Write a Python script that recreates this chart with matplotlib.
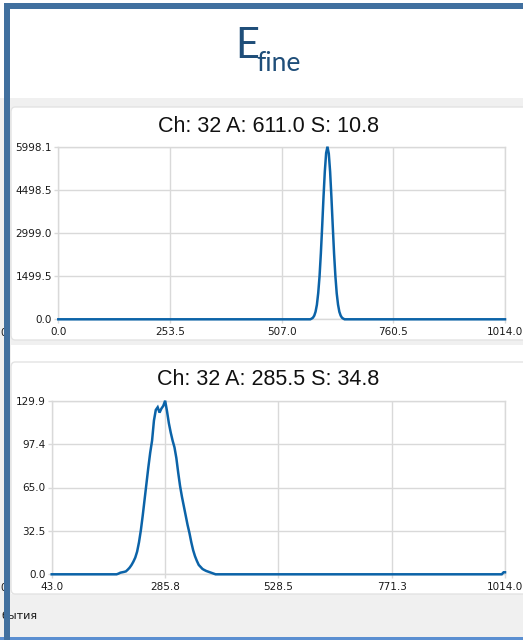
import numpy as np
import matplotlib
matplotlib.use("Agg")
import matplotlib.pyplot as plt
from matplotlib.patches import Rectangle, FancyBboxPatch

# spectrum 1: channel bins around the peak (zeros outside)
top_ch = [0, 572, 575, 578, 581, 584, 587, 590, 593, 596, 599, 602, 605, 608, 611,
          614, 617, 620, 623, 626, 629, 632, 635, 638, 641, 644, 647, 650, 1014]
top_cnt = [0, 0, 23, 56, 127, 265, 505, 910, 1490, 2290, 3230, 4245, 5140, 5780, 5998.1,
           5760, 5135, 4235, 3240, 2280, 1500, 900, 510, 260, 128, 55, 22, 0, 0]
top_xticks = ["0.0", "253.5", "507.0", "760.5", "1014.0"]
top_yticks = ["0.0", "1499.5", "2999.0", "4498.5", "5998.1"]

# spectrum 2
bot_ch = [43, 182, 186, 190, 194, 198, 202, 206, 210, 214, 218, 222, 226, 230, 234, 238,
          242, 246, 250, 254, 258, 262, 266, 270, 274, 278, 282, 286, 290, 294, 298,
          302, 306, 310, 314, 318, 322, 326, 330, 334, 338, 342, 346, 350, 354, 358,
          362, 366, 370, 374, 378, 382, 386, 390, 394, 1007, 1011, 1014]
bot_cnt = [0, 0, 0.5, 1.2, 1.5, 1.8, 2.2, 3.5, 5, 7, 9.5, 12.5, 17, 24, 33, 44,
           56, 68, 80, 91, 100, 115, 123, 125, 121, 124, 126, 129.9, 122, 113, 106,
           100, 95, 87, 76, 66, 58, 51, 44, 37, 31, 24, 18, 13.5, 10, 7,
           5.5, 4, 3.2, 2.5, 2, 1.5, 1, 0.5, 0, 0, 1.5, 1.5]
bot_xticks = ["43.0", "285.8", "528.5", "771.3", "1014.0"]
bot_yticks = ["0.0", "32.5", "65.0", "97.4", "129.9"]

W, H = 523, 640
def fx(x): return x / W
def fy(y): return 1 - y / H

fig = plt.figure(figsize=(W / 100, H / 100), dpi=100)
fig.patch.set_facecolor("white")

def rect(x0, y0, x1, y1, color, z, ec="none", lw=0):
    r = Rectangle((fx(x0), fy(y1)), fx(x1) - fx(x0), fy(y0) - fy(y1),
                  transform=fig.transFigure, facecolor=color, edgecolor=ec,
                  lw=lw, zorder=z)
    fig.add_artist(r)

def panel(x0, y0, x1, y1):
    p = FancyBboxPatch((fx(x0), fy(y1)), fx(x1) - fx(x0), fy(y0) - fy(y1),
                       boxstyle="round,pad=0,rounding_size=0.008",
                       transform=fig.transFigure, facecolor="white",
                       edgecolor="#e3e3e3", lw=1, zorder=-9)
    fig.add_artist(p)

# app window background and panels
rect(0, 98, W, 640, "#f0f0f0", -10)
panel(11, 107, W + 5, 340)
rect(11, 345, W, 594, "white", -9)
panel(11, 362, W + 5, 594)

def draw_spectrum(ax, ch, cnt, xlo, xhi, ymax, xlabels, ylabels):
    ax.set_facecolor("white")
    ax.plot(ch, cnt, color="#0b63a8", lw=1.8, solid_joinstyle="miter",
            clip_on=False, zorder=3)
    ax.set_xlim(xlo, xhi)
    ax.set_ylim(0, ymax)
    ax.set_xticks(np.linspace(xlo, xhi, 5))
    ax.set_xticklabels(xlabels)
    ax.set_yticks(np.linspace(0, ymax, 5))
    ax.set_yticklabels(ylabels)
    ax.grid(True, color="#d9d9d9", lw=1)
    ax.set_axisbelow(True)
    for s in ax.spines.values():
        s.set_color("#d9d9d9")
        s.set_linewidth(1)
    ax.tick_params(length=3, width=1, color="#d9d9d9", labelsize=7.5,
                   labelcolor="#1a1a1a")
    ax.tick_params(axis="y", pad=1.5)
    ax.tick_params(axis="x", pad=2.5)
    for t in ax.get_xticklabels() + ax.get_yticklabels():
        t.set_family("DejaVu Sans")

ax1 = fig.add_axes([fx(58.3), fy(319.3), (505 - 58.3) / W, (319.3 - 146.7) / H])
draw_spectrum(ax1, top_ch, top_cnt, 0, 1014, 5998.1, top_xticks, top_yticks)

ax2 = fig.add_axes([fx(51.7), fy(574.3), (505 - 51.7) / W, (574.3 - 400.7) / H])
draw_spectrum(ax2, bot_ch, bot_cnt, 43, 1014, 129.9, bot_xticks, bot_yticks)

fig.text(fx(268), fy(131.5), "Ch: 32 A: 611.0 S: 10.8", ha="center", va="baseline",
         fontsize=15.5, family="Liberation Sans", color="#111111")
fig.text(fx(268), fy(385), "Ch: 32 A: 285.5 S: 34.8", ha="center", va="baseline",
         fontsize=15.5, family="Liberation Sans", color="#111111")

# slide heading
fig.text(fx(235), fy(58), "E", ha="left", va="baseline", fontsize=30,
         family="Lato", color="#1f4e79")
fig.text(fx(256), fy(70.7), "fine", ha="left", va="baseline", fontsize=19,
         family="Lato", color="#1f4e79")

# widget labels partly hidden under the frame
fig.text(fx(0), fy(336), "0", ha="left", va="baseline", fontsize=7.5,
         family="DejaVu Sans", color="#1a1a1a")
fig.text(fx(0), fy(591), "0", ha="left", va="baseline", fontsize=7.5,
         family="DejaVu Sans", color="#1a1a1a")
fig.text(fx(1), fy(619), "бытия", ha="left", va="baseline", fontsize=8,
         family="DejaVu Sans", color="#1a1a1a")

# slide frame
rect(0, 636.5, W, 640, "#5b8fd1", 10)
rect(4, 3, W, 9, "#41709f", 11)
rect(4, 3, 10, 640, "#41709f", 11)

fig.savefig("out.png", dpi=100)
